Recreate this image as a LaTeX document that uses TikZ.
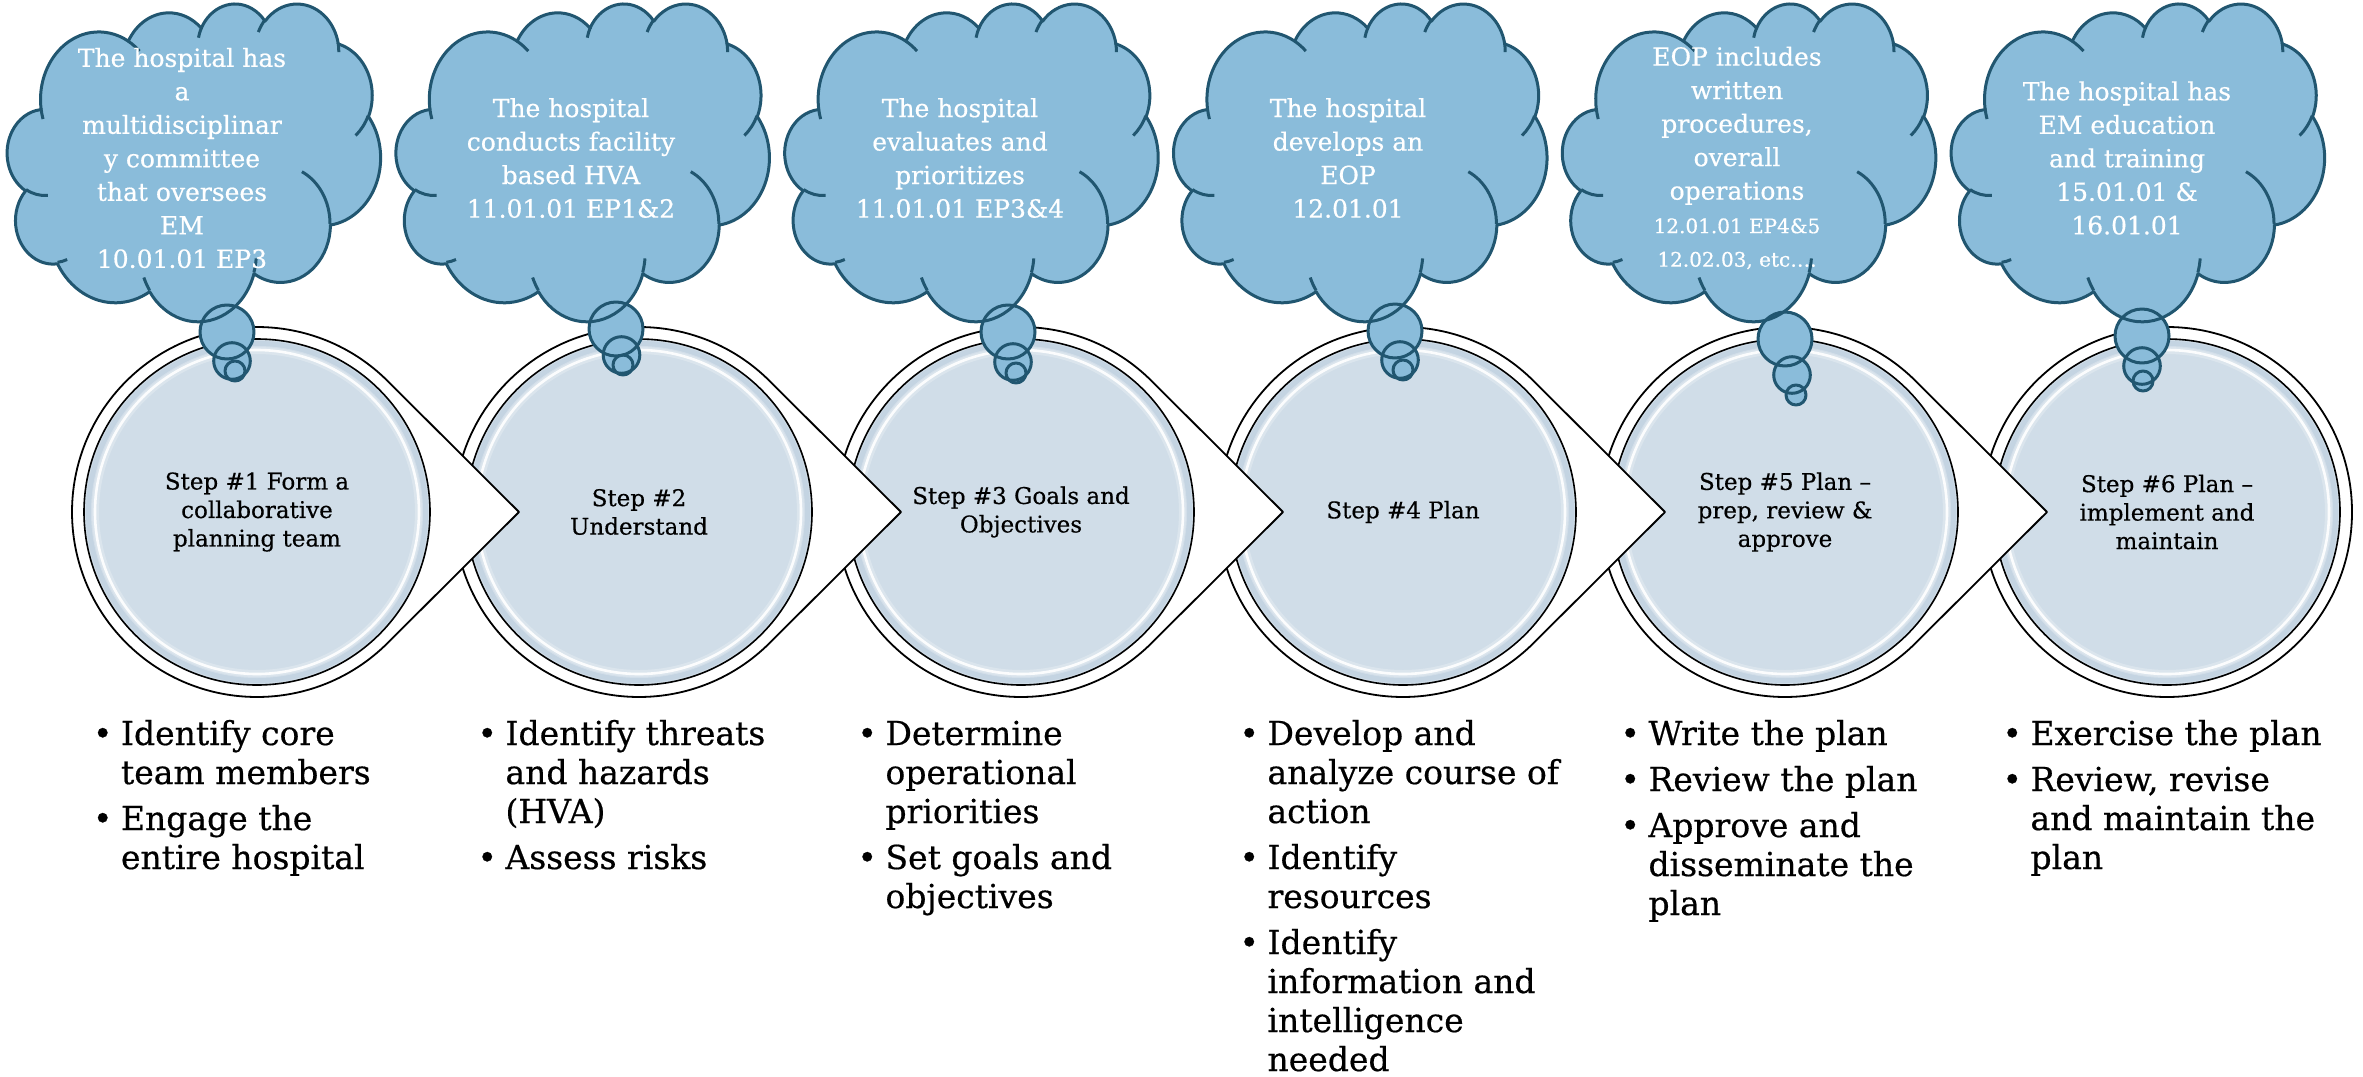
\documentclass[tikz,border=0pt]{standalone}
\usepackage{fontspec}
\setmainfont{DejaVu Serif}
\newfontfamily\heavy{DejaVu Serif}[FakeBold=0.5]

% scale of the cloud outline (shape units 43200 -> pt)
\newcommand\csx{0.00863}
\newcommand\csy{0.00735}
% the same scale for coordinates written in thousands of shape units
\newcommand\ksx{8.63}
\newcommand\ksy{7.35}
% parametric angle of a point given by its visual angle on an ellipse
\newcommand\cpa[3]{atan2((#2)*0.0001*sin(#1),(#3)*0.0001*cos(#1))}
% elliptic arc: x radius, y radius, start angle, sweep (degrees, y pointing down)
\newcommand\carc[4]{arc[start angle={-(\cpa{#3}{#1}{#2})},
  delta angle={-mod(\cpa{#3+#4}{#1}{#2}-(\cpa{#3}{#1}{#2})+720,360)},
  x radius={#1*\csx*1pt}, y radius={#2*\csy*1pt}]}
\newcommand\cpt[2]{({#1*\ksx},{#2*\ksy})}

\newcommand\cloudpath{\cpt{3.900}{14.370}
  \carc{6753}{9190}{-190.487483}{123.780533}
  \carc{5333}{7267}{-144.102383}{89.945233}
  \carc{4365}{5945}{-145.807917}{99.723017}
  \carc{4857}{6595}{-130.986067}{117.241733}
  \carc{5333}{7273}{-78.708883}{109.026917}
  \carc{6775}{9220}{-46.26725}{130.269}
  \carc{5785}{7867}{0.625017}{114.033333}
  \carc{6752}{9215}{22.4516}{115.17255}
  \carc{7720}{10543}{66.242633}{75.711017}
  \carc{4360}{5918}{-274.942083}{146.735567}
  \carc{4345}{5945}{-246.8285}{152.51885}
  -- cycle}

\newcommand\cloudinner{
  \cpt{4.693}{26.177} \carc{4345}{5945}{86.742}{26.4295}
  \cpt{6.928}{34.899} \carc{4360}{5918}{73.61047}{11.44747}
  \cpt{16.478}{39.090} \carc{6752}{9215}{137.62415}{14.0811}
  \cpt{28.827}{34.751} \carc{6752}{9215}{6.45327}{15.99835}
  \cpt{34.129}{22.954} \carc{5785}{7867}{-70.29235}{70.91737}
  \cpt{41.798}{15.354} \carc{5333}{7273}{30.31803}{27.7515}
  \cpt{38.324}{5.426} \carc{4857}{6595}{-13.74433}{14.8589}
  \cpt{29.078}{3.952} \carc{4857}{6595}{-149.18145}{18.19537}
  \cpt{22.141}{4.720} \carc{4365}{5945}{-163.49427}{17.68635}
  \cpt{14.000}{5.192} \carc{6753}{9190}{-66.70695}{12.31935}
  \cpt{4.127}{15.789} \carc{6753}{9190}{157.65435}{11.85817}}

% cloud at left edge #1 with thought bubbles (big, middle, small centres)
\newcommand\thoughtcloud[7]{%
  \begin{scope}[shift={(#1,3)}]
    \fill[cloudfill] \cloudpath;
  \end{scope}
  \fill[cloudfill] (#2,#3) circle[radius=27pt] (#4,#5) circle[radius=18.3pt]
    (#6,#7) circle[radius=10pt];
  \begin{scope}[shift={(#1,3)}]
    \draw[cloudstroke] \cloudpath;
    \draw[cloudstroke] \cloudinner;
  \end{scope}
  \draw[cloudstroke] (#2,#3) circle[radius=27pt];
  \draw[cloudstroke] (#4,#5) circle[radius=18.3pt];
  \draw[cloudstroke] (#6,#7) circle[radius=10pt];
}

% one bullet item with hanging lines; \\ breaks a line inside the item
\newcommand\bitem[1]{{\let\\\newline\hangindent=28pt\hangafter=1\noindent
  \makebox[28pt][l]{•}#1\par}}
\newcommand\blist[1]{\begin{minipage}[t]{330pt}\setlength\parskip{7pt}#1\end{minipage}}
\newcommand\refsize{\fontsize{20}{30}\selectfont}

\begin{document}
\begin{tikzpicture}[x=1pt,y=-1pt,line join=round]
\definecolor{cloudfill}{RGB}{138,188,218}
\definecolor{cloudline}{RGB}{33,86,112}
\definecolor{stepfill}{RGB}{208,221,232}
\definecolor{stepband}{RGB}{188,206,222}
\tikzset{
  steptext/.style={align=center,font=\heavy\fontsize{23}{28.5}\selectfont,text=black},
  cloudtext/.style={align=center,font=\heavy\fontsize{25}{33.5}\selectfont,text=white},
  cloudstroke/.style={draw=cloudline,line width=3pt},
  ringline/.style={draw=black,line width=1.8pt},
  bullets/.style={anchor=base west,inner sep=0pt,font=\heavy\fontsize{33}{39}\selectfont},
}
\fill[white] (0,0) rectangle (2363,1076);
\useasboundingbox (0,0) rectangle (2363,1076);

% step discs, last first so that each pointer lies over the next disc
\foreach \i/\cx in {6/2167,5/1785,4/1403,3/1021,2/639,1/257}{
  \ifnum\i=6
    \filldraw[fill=white,ringline] (\cx,512) circle[radius=185pt];
  \else
    \filldraw[fill=white,ringline] (\cx+262,512)
      -- ++({-262+185*cos(45.1)},{-185*sin(45.1)})
      arc[start angle=45.1,end angle=314.9,radius=185pt] -- cycle;
  \fi
  \filldraw[fill=stepfill,draw=black,line width=1.6pt] (\cx,512) circle[radius=173pt];
  \draw[stepband,line width=6pt,opacity=0.6] (\cx,512) circle[radius=168pt];
  \draw[white,line width=8pt,opacity=0.25] (\cx,512) circle[radius=162pt];
  \draw[white,line width=2.6pt,opacity=0.9] (\cx,512) circle[radius=162pt];
}

\node[steptext] (s1) at (257,512) {Step \#1 Form a\\collaborative\\planning team};
\node[steptext] (s2) at (639,512) {Step \#2\\Understand};
\node[steptext] (s3) at (1021,512) {Step \#3 Goals and\\Objectives};
\node[steptext] (s4) at (1403,512) {Step \#4 Plan};
\node[steptext] (s5) at (1785,512) {Step \#5 Plan –\\prep, review \&\\approve};
\node[steptext] (s6) at (2167,512) {Step \#6 Plan –\\implement and\\maintain};

% thought clouds
\thoughtcloud{7.4}{227}{332}{232}{361}{235}{371}
\thoughtcloud{396.2}{616}{329}{621.5}{355}{623}{365}
\thoughtcloud{785}{1008}{332}{1013}{362}{1016}{373}
\thoughtcloud{1173.8}{1395}{331}{1400}{360}{1403}{370}
\thoughtcloud{1562.6}{1785}{339}{1792}{375}{1796}{395}
\thoughtcloud{1951.4}{2142}{336}{2142}{366}{2143}{381}

\node[cloudtext] (c1) at (182,158) {The hospital has\\a\\multidisciplinar\\y committee\\that oversees\\EM\\10.01.01 EP3};
\node[cloudtext] (c2) at (571,158) {The hospital\\conducts facility\\based HVA\\11.01.01 EP1\&2};
\node[cloudtext] (c3) at (960,158) {The hospital\\evaluates and\\prioritizes\\11.01.01 EP3\&4};
\node[cloudtext] (c4) at (1348,158) {The hospital\\develops an\\EOP\\12.01.01};
\node[cloudtext] (c5) at (1737,158) {EOP includes\\written\\procedures,\\overall\\operations\\
  {\refsize 12.01.01 EP4\&5}\\{\refsize 12.02.03, etc….}};
\node[cloudtext] (c6) at (2127,158) {The hospital has\\EM education\\and training\\15.01.01 \&\\16.01.01};

% bullet lists under the discs
\node[bullets] (b1) at (92.8,745) {\blist{\bitem{Identify core\\team members}\bitem{Engage the\\entire hospital}}};
\node[bullets] (b2) at (477.3,745) {\blist{\bitem{Identify threats\\and hazards\\(HVA)}\bitem{Assess risks}}};
\node[bullets] (b3) at (857.3,745) {\blist{\bitem{Determine\\operational\\priorities}\bitem{Set goals and\\objectives}}};
\node[bullets] (b4) at (1239.3,745) {\blist{\bitem{Develop and\\analyze course of\\action}\bitem{Identify\\resources}\bitem{Identify\\information and\\intelligence\\needed}}};
\node[bullets] (b5) at (1620.3,745) {\blist{\bitem{Write the plan}\bitem{Review the plan}\bitem{Approve and\\disseminate the\\plan}}};
\node[bullets] (b6) at (2002.3,745) {\blist{\bitem{Exercise the plan}\bitem{Review, revise\\and maintain the\\plan}}};
\end{tikzpicture}
\end{document}
